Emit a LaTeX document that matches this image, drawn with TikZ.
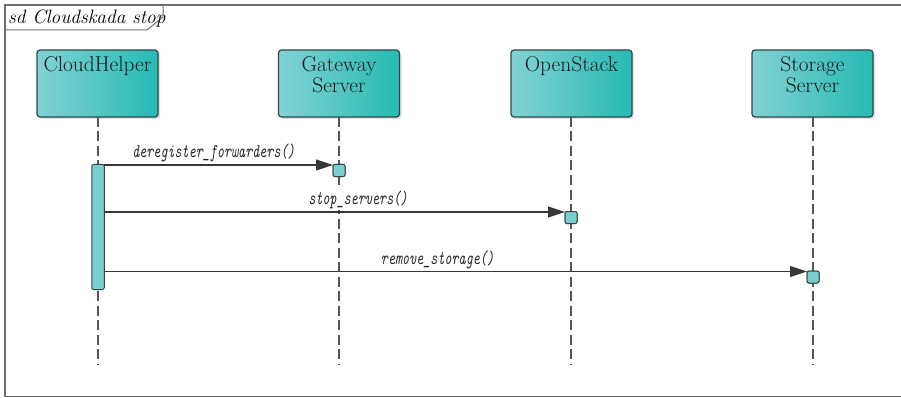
\documentclass[tikz,border=0pt]{standalone}
\usetikzlibrary{arrows.meta,shadows}
\definecolor{boxL}{RGB}{130,210,210}
\definecolor{boxR}{RGB}{38,186,180}
\definecolor{boxD}{RGB}{45,72,72}
\definecolor{actF}{RGB}{122,207,207}
\definecolor{frameC}{RGB}{110,110,110}
\definecolor{lineC}{RGB}{55,55,55}
\tikzset{
  umlbox/.style={draw=boxD, line width=1.2pt, rounded corners=3pt,
    left color=boxL, right color=boxR, shading angle=90,
    minimum width=121pt, minimum height=67pt, inner sep=0pt, outer sep=0pt,
    drop shadow={opacity=0.25, shadow xshift=2pt, shadow yshift=-2pt}},
  boxtext/.style={anchor=north, align=center, inner sep=0pt,
    font=\fontsize{21.4}{19.3}\selectfont, text=black!90},
  lifeline/.style={draw=lineC!85, line width=1.2pt, dash pattern=on 10pt off 4.5pt},
  actbox/.style={draw=boxD, line width=1pt, fill=actF, rounded corners=2pt,
    inner sep=0pt, outer sep=0pt, anchor=north},
  msg/.style={draw=lineC, line width=1.1pt, -{Triangle[length=17pt,width=11pt]}},
  msglabel/.style={anchor=base, fill=white, inner sep=1pt, text=black!85},
  framebox/.style={draw=frameC, line width=1.2pt}
}
\newcommand{\msgtxt}[1]{\scalebox{0.69}[1]{\fontsize{19.5}{19}\selectfont\ttfamily\itshape #1}}
\begin{document}
\begin{tikzpicture}[x=1pt,y=-1pt]
\useasboundingbox (0,0) rectangle (901,398);
% frame
\draw[framebox] (5,5) rectangle (905,396.5);
\draw[framebox, line width=1pt] (5,30) -- (147,30) -- (163,17) -- (163,5);
\node[anchor=base west, inner sep=0pt, font=\fontsize{19.3}{20}\selectfont\itshape] (title) at (8,23.3) {sd Cloudskada stop};
% participants
\node[umlbox] (ch) at (97.5,83.5) {};
\node[umlbox] (gw) at (339,83.5) {};
\node[umlbox] (os) at (571.5,83.5) {};
\node[umlbox] (ss) at (812.5,83.5) {};
\node[boxtext] (tch) at ([yshift=-6.8pt]ch.north) {CloudHelper};
\node[boxtext] (tgw) at ([yshift=-6.8pt]gw.north) {Gateway\\Server};
\node[boxtext] (tos) at ([yshift=-6.8pt]os.north) {OpenStack};
\node[boxtext] (tss) at ([yshift=-6.8pt]ss.north) {Storage\\Server};
% lifeline ends
\coordinate (chE) at (98,365);
\coordinate (gwE) at (339,365);
\coordinate (osE) at (571,365);
\coordinate (ssE) at (813,365);
\draw[lifeline] (ch.south -| chE) -- (chE);
\draw[lifeline] (gw.south -| gwE) -- (gwE);
\draw[lifeline] (os.south -| osE) -- (osE);
\draw[lifeline] (ss.south -| ssE) -- (ssE);
% labels
\node[msglabel] (l1) at (213.5,157.5) {\msgtxt{deregister\_forwarders()}};
\node[msglabel] (l2) at (358,204.5) {\msgtxt{stop\_servers()}};
\node[msglabel] (l3) at (437.5,264) {\msgtxt{remove\_storage()}};
% activations
\node[actbox, minimum width=12.5pt, minimum height=125pt] (a0) at (98,164.5) {};
\node[actbox, minimum width=12pt, minimum height=12pt] (a1) at (339,164.5) {};
\node[actbox, minimum width=12pt, minimum height=12pt] (a2) at (571,211.5) {};
\node[actbox, minimum width=12pt, minimum height=12pt] (a3) at (813,271) {};
% messages
\draw[msg] ([yshift=-0.5pt]a0.east |- a1.north) -- ([yshift=-0.5pt]a1.north west);
\draw[msg] ([yshift=-0.5pt]a0.east |- a2.north) -- ([yshift=-0.5pt]a2.north west);
\draw[msg] ([yshift=-0.5pt]a0.east |- a3.north) -- ([yshift=-0.5pt]a3.north west);
% redraw activations on top of arrow tips
\node[actbox, minimum width=12pt, minimum height=12pt] at (339,164.5) {};
\node[actbox, minimum width=12pt, minimum height=12pt] at (571,211.5) {};
\node[actbox, minimum width=12pt, minimum height=12pt] at (813,271) {};
\end{tikzpicture}
\end{document}
